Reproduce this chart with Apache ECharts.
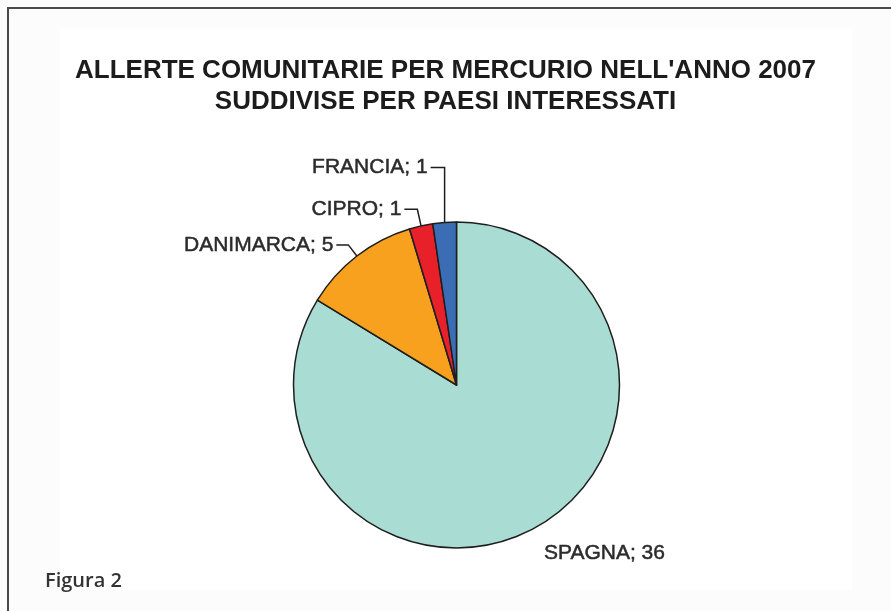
<!DOCTYPE html>
<html>
<head>
<meta charset="utf-8">
<style>
  html, body { margin: 0; padding: 0; background: #fcfcfc; }
  #chart { width: 891px; height: 611px; }
</style>
<script src="https://cdn.jsdelivr.net/npm/echarts@6/dist/echarts.min.js"></script>
</head>
<body>
<div id="chart"></div>
<script>
// Alerts per country (mercury, 2007)
const countries = ['SPAGNA', 'DANIMARCA', 'CIPRO', 'FRANCIA'];
const alerts = [36, 5, 1, 1];
const sliceColors = ['#a9ddd4', '#f7a11f', '#e8202a', '#3a6db4'];

// Leader line lengths per slice: [radial part, horizontal part]
const leaderLengths = {
  SPAGNA: [30, 0],
  DANIMARCA: [14, 12],
  CIPRO: [17, 13],
  FRANCIA: [55, 10]
};

const chart = echarts.init(document.getElementById('chart'), null, { renderer: 'canvas' });

chart.setOption({
  animation: false,
  backgroundColor: '#fcfcfc',
  title: {
    text: "ALLERTE COMUNITARIE PER MERCURIO NELL'ANNO 2007\nSUDDIVISE PER PAESI INTERESSATI",
    left: 'center',
    top: 55,
    padding: 0,
    textStyle: {
      fontFamily: '"Liberation Sans", Arial, sans-serif',
      fontWeight: 'bold',
      fontSize: 26,
      lineHeight: 31,
      color: '#1c1c1c'
    }
  },
  graphic: [
    {
      type: 'rect',
      z: -10,
      shape: { x: 60, y: 28, width: 792, height: 562 },
      style: { fill: '#ffffff' },
      silent: true
    },
    {
      type: 'polyline',
      z: 10,
      shape: { points: [[8, 611], [8, 8], [891, 8]] },
      style: { stroke: '#4a4a4a', lineWidth: 2, fill: null },
      silent: true
    },
    {
      type: 'text',
      style: {
        x: 45,
        y: 581,
        text: 'Figura 2',
        verticalAlign: 'middle',
        font: '600 20px "Open Sans", sans-serif',
        fill: '#333333'
      },
      silent: true
    }
  ],
  series: [
    {
      type: 'pie',
      center: [456.5, 385],
      radius: 163,
      startAngle: 90,
      clockwise: true,
      avoidLabelOverlap: false,
      itemStyle: { borderColor: '#1e1e1e', borderWidth: 1.5 },
      label: {
        show: true,
        position: 'outside',
        formatter: '{b}; {c}',
        fontFamily: '"Liberation Sans", Arial, sans-serif',
        fontSize: 21,
        color: '#2b2b2b',
        textBorderColor: '#2b2b2b',
        textBorderWidth: 0.5,
        distanceToLabelLine: 3
      },
      labelLine: {
        show: true,
        smooth: false,
        lineStyle: { color: '#1e1e1e', width: 1.5 }
      },
      labelLayout: function (params) {
        const name = countries[params.dataIndex];
        const pts = params.labelLinePoints;
        if (name === 'SPAGNA') {
          return { dx: -10 };
        }
        if (name === 'FRANCIA' && pts) {
          // keep the rising part of the leader vertical
          return {
            labelLinePoints: [
              [pts[0][0], pts[0][1]],
              [pts[0][0], pts[1][1]],
              [pts[2][0], pts[1][1]]
            ]
          };
        }
        return {};
      },
      data: countries.map(function (name, i) {
        const len = leaderLengths[name];
        return {
          name: name,
          value: alerts[i],
          itemStyle: { color: sliceColors[i] },
          labelLine: { show: name !== 'SPAGNA', length: len[0], length2: len[1] }
        };
      })
    }
  ]
});
</script>
</body>
</html>
